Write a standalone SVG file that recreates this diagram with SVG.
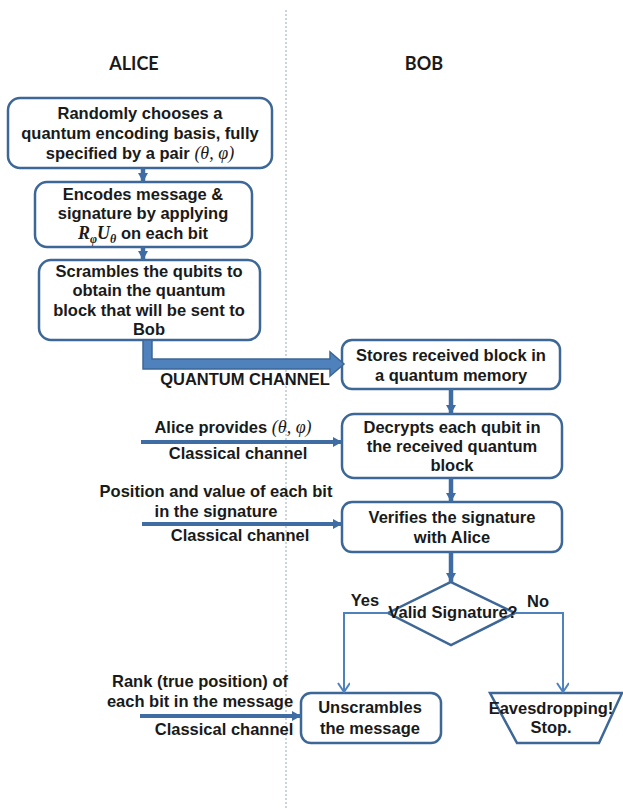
<svg xmlns="http://www.w3.org/2000/svg" width="623" height="810" viewBox="0 0 623 810">
  <defs>
    <style>
      .box { fill: #ffffff; stroke: #3d6796; stroke-width: 2.5; }
      .t { font-family: "Liberation Sans", Arial, sans-serif; font-weight: bold; font-size: 16.5px; fill: #1a1a1a; text-anchor: middle; }
      .m { font-family: "Liberation Serif", "Times New Roman", serif; font-style: italic; font-weight: normal; font-size: 18px; }
      .mb { font-family: "Liberation Serif", "Times New Roman", serif; font-style: italic; font-weight: bold; font-size: 18px; }
      .sub { font-family: "Liberation Serif", "Times New Roman", serif; font-style: italic; font-weight: bold; font-size: 12px; }
      .hdr { font-family: Lato, "Open Sans", sans-serif; font-weight: bold; font-size: 18px; fill: #1a1a1a; text-anchor: middle; }
      .flow { stroke: #3f6da3; stroke-width: 4.5; fill: none; }
      .chan { stroke: #3f6da3; stroke-width: 4; fill: none; }
      .branch { stroke: #4f81bd; stroke-width: 2; fill: none; }
    </style>
    <marker id="head" markerUnits="userSpaceOnUse" markerWidth="12" markerHeight="12" refX="9" refY="5" orient="auto">
      <path d="M0,0 L9,5 L0,10 z" fill="#3f6da3"/>
    </marker>
    <marker id="vee" markerUnits="userSpaceOnUse" markerWidth="14" markerHeight="14" refX="10" refY="6" orient="auto">
      <path d="M1,0 L10,6 L1,12" fill="none" stroke="#4f81bd" stroke-width="2"/>
    </marker>
  </defs>

  <rect width="623" height="810" fill="#ffffff"/>

  <!-- lane divider -->
  <line x1="286" y1="10" x2="286" y2="810" stroke="#9aa8b8" stroke-width="1" stroke-dasharray="2,2"/>

  <!-- lane headers -->
  <text class="hdr" x="134" y="70">ALICE</text>
  <text class="hdr" x="424" y="70">BOB</text>

  <!-- Alice steps -->
  <g id="choose-basis">
    <rect class="box" x="8" y="98" width="264" height="70" rx="12"/>
    <text class="t" x="140" y="119">Randomly chooses a</text>
    <text class="t" x="140" y="139">quantum encoding basis, fully</text>
    <text class="t" x="140" y="159">specified by a pair <tspan class="m">(θ, φ)</tspan></text>
  </g>

  <g id="encode">
    <rect class="box" x="35" y="182" width="217" height="65" rx="12"/>
    <text class="t" x="143" y="200">Encodes message &amp;</text>
    <text class="t" x="143" y="219">signature by applying</text>
    <text class="t" x="143" y="239"><tspan class="mb">R</tspan><tspan class="sub" dy="4">φ</tspan><tspan class="mb" dy="-4">U</tspan><tspan class="sub" dy="4">θ</tspan><tspan dy="-4"> on each bit</tspan></text>
  </g>

  <g id="scramble">
    <rect class="box" x="39" y="260" width="221" height="80" rx="12"/>
    <text class="t" x="149" y="277">Scrambles the qubits to</text>
    <text class="t" x="149" y="296">obtain the quantum</text>
    <text class="t" x="149" y="316">block that will be sent to</text>
    <text class="t" x="149" y="335">Bob</text>
  </g>

  <!-- Bob steps -->
  <g id="store">
    <rect class="box" x="342" y="340" width="218" height="49" rx="10"/>
    <text class="t" x="451" y="361">Stores received block in</text>
    <text class="t" x="451" y="381">a quantum memory</text>
  </g>

  <g id="decrypt">
    <rect class="box" x="342" y="414" width="220" height="64" rx="12"/>
    <text class="t" x="452" y="433">Decrypts each qubit in</text>
    <text class="t" x="452" y="452">the received quantum</text>
    <text class="t" x="452" y="471">block</text>
  </g>

  <g id="verify">
    <rect class="box" x="342" y="502" width="220" height="50" rx="10"/>
    <text class="t" x="452" y="523">Verifies the signature</text>
    <text class="t" x="452" y="543">with Alice</text>
  </g>

  <g id="valid-check">
    <polygon class="box" points="451,582 515,613 451,645 388,613"/>
    <text class="t" x="453" y="618" font-size="14px">Valid Signature?</text>
  </g>

  <g id="unscramble">
    <rect class="box" x="301" y="693" width="140" height="50" rx="10"/>
    <text class="t" x="370" y="713" font-size="17px">Unscrambles</text>
    <text class="t" x="370" y="734" font-size="17px">the message</text>
  </g>

  <g id="stop">
    <polygon class="box" points="490,693 622,693 599,743 517,743"/>
    <text class="t" x="551" y="714" font-size="14px">Eavesdropping!</text>
    <text class="t" x="551" y="733" font-size="14px">Stop.</text>
  </g>

  <!-- connectors -->
  <g id="connectors">
    <line class="flow" x1="143" y1="168" x2="143" y2="182" marker-end="url(#head)"/>
    <line class="flow" x1="143" y1="247" x2="143" y2="260" marker-end="url(#head)"/>
    <line class="flow" x1="451" y1="389" x2="451" y2="414" marker-end="url(#head)"/>
    <line class="flow" x1="451" y1="478" x2="451" y2="502" marker-end="url(#head)"/>
    <line class="flow" x1="451" y1="552" x2="451" y2="582" marker-end="url(#head)"/>

    <!-- quantum channel block arrow -->
    <path d="M143,340 L143,369 L330,369 L330,376 L344,364 L330,352 L330,359 L152,359 L152,340 Z" fill="#4f81bd" stroke="#3d6796" stroke-width="1.5"/>
    <text class="t" x="245" y="385" font-size="15px">QUANTUM CHANNEL</text>

    <!-- classical channels -->
    <line class="chan" x1="141" y1="442" x2="342" y2="442" marker-end="url(#head)"/>
    <text class="t" x="233" y="433">Alice provides <tspan class="m">(θ, φ)</tspan></text>
    <text class="t" x="238" y="459">Classical channel</text>

    <line class="chan" x1="142" y1="524" x2="342" y2="524" marker-end="url(#head)"/>
    <text class="t" x="216" y="497">Position and value of each bit</text>
    <text class="t" x="216" y="517">in the signature</text>
    <text class="t" x="240" y="541">Classical channel</text>

    <line class="chan" x1="140" y1="716" x2="301" y2="716" marker-end="url(#head)"/>
    <text class="t" x="200" y="687">Rank (true position) of</text>
    <text class="t" x="200" y="707">each bit in the message</text>
    <text class="t" x="224" y="735">Classical channel</text>

    <!-- decision branches -->
    <polyline class="branch" points="388,613 344,613 344,692" marker-end="url(#vee)"/>
    <text class="t" x="365" y="606" font-size="14px">Yes</text>
    <polyline class="branch" points="515,613 563,613 563,692" marker-end="url(#vee)"/>
    <text class="t" x="538" y="607" font-size="14px">No</text>
  </g>
</svg>
